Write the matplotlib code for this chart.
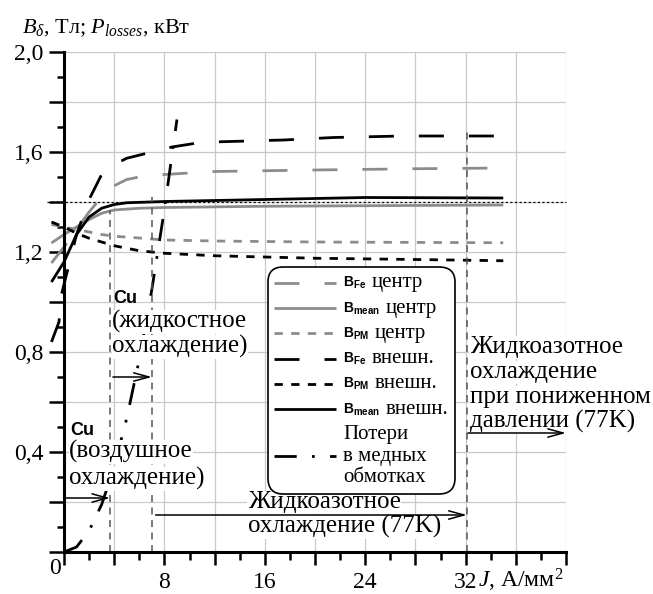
import matplotlib
matplotlib.use('Agg')
import matplotlib.pyplot as plt
from matplotlib.ticker import MultipleLocator, FuncFormatter
from matplotlib.offsetbox import AnchoredOffsetbox, VPacker, HPacker, TextArea, DrawingArea
from matplotlib.font_manager import FontProperties
from matplotlib.lines import Line2D

plt.rcParams['lines.scale_dashes'] = False
plt.rcParams['mathtext.fontset'] = 'custom'
plt.rcParams['mathtext.rm'] = 'Liberation Serif'
plt.rcParams['mathtext.it'] = 'Liberation Serif:italic'
plt.rcParams['mathtext.bf'] = 'Liberation Sans:bold'
plt.rcParams['font.family'] = ['Liberation Serif', 'DejaVu Serif']

# ---------------- data ----------------
J_fe_c = [-1, 0, 1, 2, 3, 4, 5, 6, 8, 12, 20, 28, 35]
B_fe_c = [1.156, 1.22, 1.29, 1.36, 1.42, 1.465, 1.49, 1.50, 1.51, 1.522, 1.528, 1.533, 1.536]

J_mean_c = [-1, 0, 1, 2, 3, 4, 6, 8, 16, 35]
B_mean_c = [1.236, 1.27, 1.30, 1.33, 1.355, 1.368, 1.375, 1.378, 1.383, 1.388]

J_pm_c = [-1, 0, 1, 2, 3, 4, 6, 8, 12, 20, 35]
B_pm_c = [1.31, 1.30, 1.29, 1.28, 1.27, 1.263, 1.256, 1.248, 1.244, 1.24, 1.237]

J_fe_o = [-1.0, -0.4, -0.2, 0.2, 1.0, 2.0, 3.0, 4.0, 5.0, 6.6, 8.6, 10.5, 12.5, 17.5, 21.5, 27, 35]
B_fe_o = [0.84, 0.92, 1.03, 1.11, 1.27, 1.41, 1.51, 1.55, 1.575, 1.595, 1.62, 1.635, 1.641, 1.648, 1.658, 1.664, 1.664]

J_pm_o = [-1, 0, 1, 2, 3, 4, 6, 8, 12, 20, 28, 35]
B_pm_o = [1.32, 1.30, 1.275, 1.255, 1.24, 1.225, 1.205, 1.195, 1.185, 1.175, 1.17, 1.165]

J_mean_o = [-1, 0, 1, 2, 3, 4, 5, 8, 16, 24, 35]
B_mean_o = [1.08, 1.16, 1.27, 1.34, 1.375, 1.39, 1.397, 1.402, 1.41, 1.418, 1.416]

J_loss = [0, 1, 2, 3, 4, 5, 6, 7, 8, 9]
P_loss = [0.0, 0.02, 0.085, 0.19, 0.34, 0.535, 0.77, 1.05, 1.37, 1.73]

ref_level = 1.4
cool_limits = [3.7, 7.0, 32.1]
cool_tops = [1.37, 1.42, 1.69]

x_ticklabels = [8, 16, 24, 32]
y_ticklabels = [0.4, 0.8, 1.2, 1.6, 2.0]

# ---------------- styles ----------------
GRAY = '#8c8c8c'
LW = 2.0
st_fe_c = dict(color=GRAY, lw=LW, dashes=(18, 18))
st_mean_c = dict(color=GRAY, lw=LW, linestyle='-')
st_pm_c = dict(color=GRAY, lw=LW, dashes=(6, 6))
st_fe_o = dict(color='black', lw=LW, dashes=(18, 18))
st_pm_o = dict(color='black', lw=LW, dashes=(6, 6))
st_mean_o = dict(color='black', lw=LW, linestyle='-')
st_loss = dict(color='black', lw=LW, dashes=(16, 11, 2, 11))

series = [
    (J_fe_c, B_fe_c, st_fe_c, r'$\mathbf{B}_{\mathbf{Fe}}$', ['центр']),
    (J_mean_c, B_mean_c, st_mean_c, r'$\mathbf{B}_{\mathbf{mean}}$', ['центр']),
    (J_pm_c, B_pm_c, st_pm_c, r'$\mathbf{B}_{\mathbf{PM}}$', ['центр']),
    (J_fe_o, B_fe_o, st_fe_o, r'$\mathbf{B}_{\mathbf{Fe}}$', ['внешн.']),
    (J_pm_o, B_pm_o, st_pm_o, r'$\mathbf{B}_{\mathbf{PM}}$', ['внешн.']),
    (J_mean_o, B_mean_o, st_mean_o, r'$\mathbf{B}_{\mathbf{mean}}$', ['внешн.']),
    (J_loss, P_loss, st_loss, None, ['Потери', 'в медных', 'обмотках']),
]

fig = plt.figure(figsize=(6.53, 5.94), dpi=100)
ax = fig.add_axes([64/653, 1-552/594, 502/653, 500/594])
ax.set_xlim(0, 40)
ax.set_ylim(0, 2.0)

for xs, ys, st, _, _ in series:
    ax.plot(xs, ys, clip_on=False, solid_capstyle='butt', dash_capstyle='butt', zorder=2, **st)

# reference dotted level
ax.plot([-1.36, 40], [ref_level, ref_level], color='black', lw=0.9, dashes=(1.5, 1.8),
        clip_on=False, zorder=2)

# cooling limit dashed verticals
for xv, yt in zip(cool_limits, cool_tops):
    ax.plot([xv, xv], [0, yt], color='#555555', lw=1.1, dashes=(5, 4), zorder=2)

# grid / ticks / spines
ax.xaxis.set_major_locator(MultipleLocator(4))
ax.xaxis.set_minor_locator(MultipleLocator(2))
ax.yaxis.set_major_locator(MultipleLocator(0.2))
ax.yaxis.set_minor_locator(MultipleLocator(0.1))
ax.grid(which='major', color='#c8c8c8', lw=0.9)
ax.set_axisbelow(True)

def xfmt(v, pos):
    for t in x_ticklabels:
        if abs(v - t) < 1e-6:
            return f'{t:d}'
    return ''

def yfmt(v, pos):
    for t in y_ticklabels:
        if abs(v - t) < 1e-6:
            return f'{t:.1f}'.replace('.', ',')
    return ''

ax.xaxis.set_major_formatter(FuncFormatter(xfmt))
ax.yaxis.set_major_formatter(FuncFormatter(yfmt))
ax.tick_params(axis='x', which='major', length=9.5, width=1.8, direction='out', pad=5, labelsize=17)
ax.tick_params(axis='x', which='minor', length=5.5, width=1.8, direction='out')
ax.tick_params(axis='y', which='major', length=10.5, width=1.8, direction='out', pad=4, labelsize=17)
ax.tick_params(axis='y', which='minor', length=5, width=1.8, direction='out')
for s in ['top', 'right']:
    ax.spines[s].set_visible(False)
for s in ['left', 'bottom']:
    ax.spines[s].set_linewidth(2.2)

ax.text(-0.72, -0.064, '0', fontsize=17, ha='center', va='center', clip_on=False)
ax.text(33.0, -0.14, r'$J$, А/мм$^2$', fontsize=17, ha='left', va='baseline', clip_on=False)
fig.text(22/653, 1-33/594, r'$B_\delta$, Тл; $P_{losses}$, кВт', fontsize=16, ha='left', va='baseline')

# annotations
BB = dict(facecolor='white', edgecolor='none', pad=0.3)
TS = 18
def lines_text(x, ys, lines):
    for y, s in zip(ys, lines):
        ax.text(x, y, s, fontsize=TS, ha='left', va='baseline', bbox=BB, zorder=3, clip_on=False)

ax.text(3.92, 0.996, 'Cu', fontsize=13, fontweight='bold', family='Liberation Sans',
        ha='left', va='baseline', zorder=3)
lines_text(3.84, [0.896, 0.796], ['(жидкостное', 'охлаждение)'])
ax.text(0.48, 0.468, 'Cu', fontsize=13, fontweight='bold', family='Liberation Sans',
        ha='left', va='baseline', zorder=3)
lines_text(0.40, [0.376, 0.268], ['(воздушное', 'охлаждение)'])
lines_text(14.64, [0.176, 0.076], ['Жидкоазотное', 'охлаждение (77K)'])
lines_text(32.32, [0.796, 0.696, 0.596, 0.496],
           ['Жидкоазотное', 'охлаждение', 'при пониженном', 'давлении (77K)'])

AP = dict(arrowstyle='->,head_length=1.1,head_width=0.3', lw=1.1, color='black',
          shrinkA=0, shrinkB=0)
for (x0, x1, y) in [(0.0, 3.68, 0.216), (3.9, 7.0, 0.70), (7.3, 32.1, 0.148), (32.2, 40.0, 0.476)]:
    ax.annotate('', xy=(x1, y), xytext=(x0, y), arrowprops=AP, annotation_clip=False, zorder=6)

# legend (custom, with small sans-serif B symbols)
rows = []
HW = 44.6
FP_word = FontProperties(family='Liberation Serif', size=15)
FP_b = FontProperties(family='Liberation Sans', size=10)
for xs, ys, st, btxt, words in series:
    if btxt is not None:
        da = DrawingArea(HW, 12, 0, 0)
        da.add_artist(Line2D([0, HW], [6, 6], solid_capstyle='butt', dash_capstyle='butt', **st))
        tb = TextArea(btxt, textprops=dict(fontproperties=FP_b))
        tw = TextArea(words[0], textprops=dict(fontproperties=FP_word))
        inner = HPacker(children=[tb, tw], align='baseline', pad=0, sep=4)
        rows.append(HPacker(children=[da, inner], align='center', pad=0, sep=5))
    else:
        sub = []
        mid = len(words) // 2
        for i, w in enumerate(words):
            da = DrawingArea(HW, 12, 0, 0)
            if i == mid:
                da.add_artist(Line2D([0, HW], [6, 6], solid_capstyle='butt',
                                     dash_capstyle='butt', **st))
            tw = TextArea(w, textprops=dict(fontproperties=FP_word))
            sub.append(HPacker(children=[da, tw], align='center', pad=0, sep=5))
        rows.append(VPacker(children=sub, align='left', pad=0, sep=2.0))

vp = VPacker(children=rows, align='left', pad=0, sep=4.5)
box = AnchoredOffsetbox(loc='upper left', child=vp, pad=0.45, borderpad=0, frameon=True,
                        bbox_to_anchor=(0.4064, 0.57), bbox_transform=ax.transAxes,
                        prop=dict(size=10))
box.patch.set_boxstyle('round', pad=0, rounding_size=1.1)
box.patch.set_edgecolor('black')
box.patch.set_linewidth(1.2)
box.set_zorder(5)
ax.add_artist(box)

fig.savefig('out.png', dpi=100)
